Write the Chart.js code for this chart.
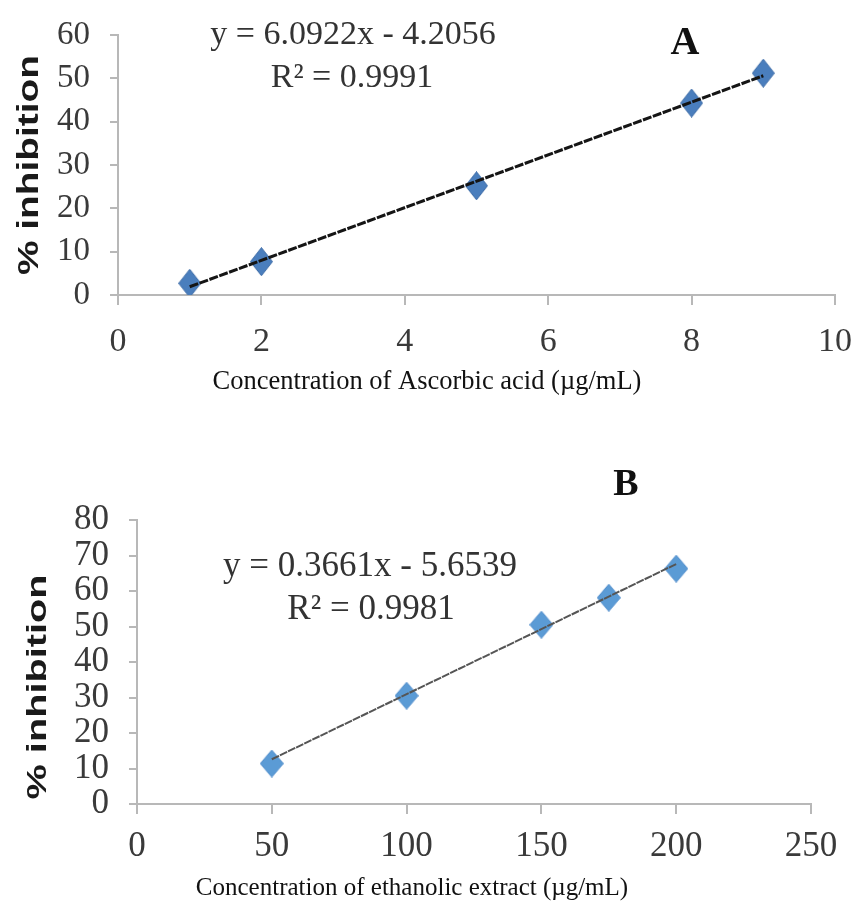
<!DOCTYPE html>
<html><head><meta charset="utf-8">
<script src="https://cdn.jsdelivr.net/npm/chart.js@4.4.0/dist/chart.umd.min.js"></script>
<style>
html,body{margin:0;padding:0;background:#fff;width:856px;height:906px;overflow:hidden}
canvas{position:absolute;left:0}
</style></head><body>
<canvas id="cA" width="856" height="420" style="top:0"></canvas>
<canvas id="cB" width="856" height="456" style="top:450px"></canvas>
<script>
// ---------- Data: panel A (Ascorbic acid) ----------
const concA = [1, 2, 5, 8, 9];
const inhibA = [2.7, 7.7, 25.2, 44.3, 51.2];
const trendAx = [1, 9];
const trendAy = [1.9, 50.6];
const xTicksA = [0, 2, 4, 6, 8, 10];
const yTicksA = [0, 10, 20, 30, 40, 50, 60];
const eqA = "y = 6.0922x - 4.2056";
const r2A = "R² = 0.9991";

// ---------- Data: panel B (ethanolic extract) ----------
const concB = [50, 100, 150, 175, 200];
const inhibB = [11.4, 30.5, 50.5, 58.1, 66.3];
const trendBx = [50, 200];
const trendBy = [12.6, 67.6];
const xTicksB = [0, 50, 100, 150, 200, 250];
const yTicksB = [0, 10, 20, 30, 40, 50, 60, 70, 80];
const eqB = "y = 0.3661x - 5.6539";
const r2B = "R² = 0.9981";

const yTitle = "% inhibition";
const xTitleA = "Concentration of Ascorbic acid (µg/mL)";
const xTitleB = "Concentration of ethanolic extract (µg/mL)";

function diamond(w, h, fill, edge) {
  const c = document.createElement('canvas');
  c.width = w; c.height = h;
  const g = c.getContext('2d');
  g.beginPath();
  g.moveTo(w / 2, 0.5); g.lineTo(w - 0.5, h / 2); g.lineTo(w / 2, h - 0.5); g.lineTo(0.5, h / 2);
  g.closePath();
  g.fillStyle = fill; g.fill();
  g.strokeStyle = edge; g.lineWidth = 1; g.stroke();
  return c;
}

const textPlugin = {
  id: 'texts',
  afterDraw(chart, args, o) {
    const ctx = chart.ctx;
    ctx.save();
    (o.items || []).forEach(it => {
      ctx.font = it.font;
      ctx.fillStyle = it.color || '#000';
      ctx.textAlign = 'center';
      ctx.textBaseline = 'middle';
      if (it.rotate) {
        ctx.save();
        ctx.translate(it.x, it.y);
        ctx.rotate(-Math.PI / 2);
        const w = ctx.measureText(it.text).width;
        ctx.scale(it.len / w, 1);
        ctx.fillText(it.text, 0, 0);
        ctx.restore();
      } else {
        ctx.fillText(it.text, it.x, it.y);
      }
    });
    ctx.restore();
  }
};

function zeroPad(s) { s.paddingLeft = 0; s.paddingRight = 0; s.paddingTop = 0; s.paddingBottom = 0; }

function makeChart(id, cfg) {
  const pts = cfg.xs.map((x, i) => ({ x, y: cfg.ys[i] }));
  const tr = cfg.tx.map((x, i) => ({ x, y: cfg.ty[i] }));
  return new Chart(document.getElementById(id), {
    type: 'scatter',
    data: {
      datasets: [
        { type: 'line', data: tr, order: 0, borderColor: cfg.lineColor, borderWidth: cfg.lineWidth,
          borderDash: cfg.dash, pointRadius: 0, fill: false, tension: 0 },
        { data: pts, order: 1, pointStyle: cfg.marker, pointRadius: 12, pointHoverRadius: 12 }
      ]
    },
    options: {
      responsive: false, animation: false, devicePixelRatio: 1,
      layout: { padding: cfg.padding },
      plugins: { legend: { display: false }, tooltip: { enabled: false }, texts: { items: cfg.texts } },
      scales: {
        x: {
          type: 'linear', min: cfg.xTicks[0], max: cfg.xTicks[cfg.xTicks.length - 1],
          afterBuildTicks: a => { a.ticks = cfg.xTicks.map(v => ({ value: v })); },
          afterFit: s => { s.height = cfg.xH; zeroPad(s); },
          grid: { drawOnChartArea: false, tickLength: 10, color: '#b8b8b8', lineWidth: 2 },
          border: { color: '#b8b8b8', width: 2 },
          ticks: { color: '#3a3a3a', padding: cfg.xPad, maxRotation: 0, autoSkip: false,
            font: { family: 'Liberation Serif', size: cfg.xFont } }
        },
        y: {
          type: 'linear', min: cfg.yTicks[0], max: cfg.yTicks[cfg.yTicks.length - 1],
          afterBuildTicks: a => { a.ticks = cfg.yTicks.map(v => ({ value: v })); },
          afterFit: s => { s.width = cfg.yW; zeroPad(s); },
          grid: { drawOnChartArea: false, tickLength: 8, color: '#b8b8b8', lineWidth: 2 },
          border: { color: '#b8b8b8', width: 2 },
          ticks: { color: '#3a3a3a', padding: cfg.yPad, autoSkip: false,
            font: { family: 'Liberation Serif', size: cfg.yFont, lineHeight: 1 } }
        }
      }
    },
    plugins: [textPlugin]
  });
}

makeChart('cA', {
  xs: concA, ys: inhibA, tx: trendAx, ty: trendAy, xTicks: xTicksA, yTicks: yTicksA,
  marker: diamond(23, 29, '#4a7ebd', '#3b6aa6'),
  lineColor: '#151515', lineWidth: 3, dash: [9, 1.5],
  padding: { left: 0, right: 21, top: 35, bottom: 0 }, xH: 125, yW: 118,
  xPad: 17, yPad: 20, xFont: 34, yFont: 33,
  texts: [
    { text: eqA, x: 353, y: 35, font: '34px "Liberation Serif"', color: '#333' },
    { text: r2A, x: 352, y: 78, font: '34px "Liberation Serif"', color: '#333' },
    { text: 'A', x: 685, y: 44, font: 'bold 40px "Liberation Serif"', color: '#111' },
    { text: yTitle, x: 30, y: 165, rotate: true, len: 220, font: 'bold 30px "Liberation Sans"', color: '#1a1a1a' },
    { text: xTitleA, x: 427, y: 382, font: '26.5px "Liberation Serif"', color: '#111' }
  ]
});

makeChart('cB', {
  xs: concB, ys: inhibB, tx: trendBx, ty: trendBy, xTicks: xTicksB, yTicks: yTicksB,
  marker: diamond(24, 28, '#5b9bd5', '#4f8ccb'),
  lineColor: '#555555', lineWidth: 2, dash: [8, 1],
  padding: { left: 0, right: 45, top: 70, bottom: 0 }, xH: 102, yW: 137,
  xPad: 12, yPad: 20, xFont: 35, yFont: 35,
  texts: [
    { text: eqB, x: 370, y: 117, font: '35px "Liberation Serif"', color: '#333' },
    { text: r2B, x: 371, y: 160, font: '35px "Liberation Serif"', color: '#333' },
    { text: 'B', x: 626, y: 35, font: 'bold 38px "Liberation Serif"', color: '#111' },
    { text: yTitle, x: 38, y: 237, rotate: true, len: 225, font: 'bold 28px "Liberation Sans"', color: '#1a1a1a' },
    { text: xTitleB, x: 412, y: 438, font: '25px "Liberation Serif"', color: '#111' }
  ]
});
</script>
</body></html>
